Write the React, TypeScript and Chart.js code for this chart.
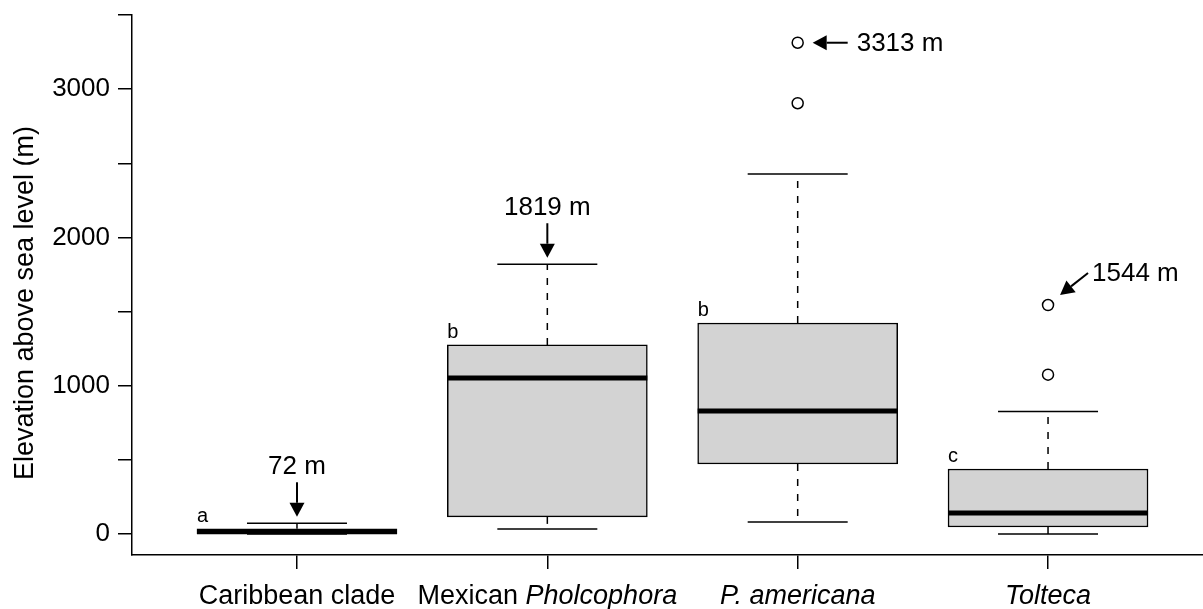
import React, { useEffect, useRef } from 'react';
import { Chart, registerables } from 'chart.js';

Chart.register(...registerables);

const FONT = "'Liberation Sans', Arial, Helvetica, sans-serif";

// ---- data ----
const groupPositions = [1, 2, 3, 4];
const groupLabelParts: [string, boolean][][] = [
  [['Caribbean clade', false]],
  [['Mexican ', false], ['Pholcophora', true]],
  [['P. americana', true]],
  [['Tolteca', true]],
];
const whiskerLow = [0, 34, 81, 0];
const q1 = [2, 115, 472, 47];
const median = [15, 1052, 829, 142];
const q3 = [35, 1275, 1423, 438];
const whiskerHigh = [72, 1819, 2428, 825];
const outlierGroup = [3, 3, 4, 4];
const outlierValue = [2905, 3313, 1074, 1544];
const groupLetters = ['a', 'b', 'b', 'c'];
const calloutText = ['72 m', '1819 m', '3313 m', '1544 m'];
const calloutGroup = [1, 2, 3, 4];
const calloutValue = [72, 1819, 3313, 1544];
const calloutKind = ['down', 'down', 'left', 'diag'];
const yTickValues = [0, 500, 1000, 1500, 2000, 2500, 3000, 3500];
const yTickLabels = ['0', '', '1000', '', '2000', '', '3000', ''];
const yTitle = 'Elevation above sea level (m)';
const yMin = -142;
const yMax = 3500;
const xMin = 0.341;
const xMax = 4.619;

function drawArrow(ctx: CanvasRenderingContext2D, x0: number, y0: number, x1: number, y1: number) {
  const headLen = 14;
  const halfW = 7.5;
  const ang = Math.atan2(y1 - y0, x1 - x0);
  const bx = x1 - headLen * Math.cos(ang);
  const by = y1 - headLen * Math.sin(ang);
  ctx.beginPath();
  ctx.moveTo(x0, y0);
  ctx.lineTo(bx, by);
  ctx.lineWidth = 2;
  ctx.stroke();
  ctx.beginPath();
  ctx.moveTo(x1, y1);
  ctx.lineTo(bx - halfW * Math.sin(ang), by + halfW * Math.cos(ang));
  ctx.lineTo(bx + halfW * Math.sin(ang), by - halfW * Math.cos(ang));
  ctx.closePath();
  ctx.fill();
}

const boxPlugin = {
  id: 'boxExtras',
  afterDatasetsDraw(chart: any) {
    const { ctx, scales } = chart;
    const x = scales.x;
    const y = scales.y;
    const meta = chart.getDatasetMeta(0);
    ctx.save();
    ctx.strokeStyle = '#000';
    ctx.lineCap = 'butt';
    const seg = (a: number, b: number, c: number, d: number) => {
      ctx.beginPath();
      ctx.moveTo(a, b);
      ctx.lineTo(c, d);
      ctx.stroke();
    };
    groupPositions.forEach((g, i) => {
      const bar = meta.data[i];
      const cx = x.getPixelForValue(g);
      const half = bar.width / 2;
      const pHi = y.getPixelForValue(whiskerHigh[i]);
      const pLo = y.getPixelForValue(whiskerLow[i]);
      const pQ1 = y.getPixelForValue(q1[i]);
      const pQ3 = y.getPixelForValue(q3[i]);
      const pMed = y.getPixelForValue(median[i]);
      ctx.lineWidth = 1.5;
      ctx.setLineDash([7, 8]);
      seg(cx, pQ3, cx, pHi);
      seg(cx, pQ1, cx, pLo);
      ctx.setLineDash([]);
      seg(cx - half / 2, pHi, cx + half / 2, pHi);
      seg(cx - half / 2, pLo, cx + half / 2, pLo);
      ctx.lineWidth = 5;
      seg(cx - half, pMed, cx + half, pMed);
    });
    ctx.restore();
  },
  afterDraw(chart: any) {
    const { ctx, scales, chartArea } = chart;
    const x = scales.x;
    const y = scales.y;
    const meta = chart.getDatasetMeta(0);
    ctx.save();
    ctx.fillStyle = '#000';
    ctx.strokeStyle = '#000';

    // x category labels with mixed italics
    ctx.textBaseline = 'alphabetic';
    ctx.textAlign = 'left';
    groupPositions.forEach((g, i) => {
      const parts = groupLabelParts[i];
      let total = 0;
      const widths = parts.map(([t, it]) => {
        ctx.font = `${it ? 'italic ' : ''}27px ${FONT}`;
        const w = ctx.measureText(t).width;
        total += w;
        return w;
      });
      let sx = x.getPixelForValue(g) - total / 2;
      const by = chartArea.bottom + 49;
      parts.forEach(([t, it], k) => {
        ctx.font = `${it ? 'italic ' : ''}27px ${FONT}`;
        ctx.fillText(t, sx, by);
        sx += widths[k];
      });
    });

    // group letters
    ctx.font = `20px ${FONT}`;
    groupPositions.forEach((g, i) => {
      const bar = meta.data[i];
      const left = x.getPixelForValue(g) - bar.width / 2;
      ctx.fillText(groupLetters[i], left, y.getPixelForValue(q3[i]) - 7);
    });

    // callouts
    ctx.font = `26px ${FONT}`;
    calloutText.forEach((t, i) => {
      const cx = x.getPixelForValue(calloutGroup[i]);
      const py = y.getPixelForValue(calloutValue[i]);
      const kind = calloutKind[i];
      if (kind === 'down') {
        ctx.textAlign = 'center';
        ctx.fillText(t, cx, py - 49);
        drawArrow(ctx, cx, py - 41, cx, py - 6.5);
      } else if (kind === 'left') {
        ctx.textAlign = 'left';
        ctx.fillText(t, cx + 59, py + 8.5);
        drawArrow(ctx, cx + 50, py, cx + 15, py);
      } else {
        ctx.textAlign = 'left';
        ctx.fillText(t, cx + 44, py - 24);
        drawArrow(ctx, cx + 40, py - 32, cx + 12, py - 10);
      }
    });

    // y title
    ctx.translate(33, chartArea.bottom - 252);
    ctx.rotate(-Math.PI / 2);
    ctx.textAlign = 'center';
    ctx.textBaseline = 'alphabetic';
    ctx.font = `27px ${FONT}`;
    ctx.fillText(yTitle, 0, 0);
    ctx.restore();
  },
};

export default function App() {
  const ref = useRef<HTMLCanvasElement>(null);
  useEffect(() => {
    const canvas = ref.current;
    if (!canvas) return;
    const axisGrid = {
      drawOnChartArea: false,
      drawTicks: true,
      tickLength: 14,
      color: '#000',
      lineWidth: 1.5,
      offset: false,
    };
    const axisBorder = { display: true, color: '#000', width: 1.5 };
    const chart = new Chart(canvas, {
      type: 'bar',
      data: {
        datasets: [
          {
            type: 'bar',
            data: groupPositions.map((g, i) => ({ x: g, y: [q1[i], q3[i]] })) as any,
            backgroundColor: '#D3D3D3',
            borderColor: '#000',
            borderWidth: 1.5,
            borderSkipped: false,
            barThickness: 200,
            order: 2,
          } as any,
          {
            type: 'scatter',
            data: outlierGroup.map((g, i) => ({ x: g, y: outlierValue[i] })),
            pointRadius: 5.5,
            pointBorderWidth: 1.5,
            pointBackgroundColor: '#fff',
            pointBorderColor: '#000',
            showLine: false,
            order: 1,
          } as any,
        ],
      },
      options: {
        responsive: false,
        animation: false,
        devicePixelRatio: 1,
        layout: { autoPadding: false, padding: { top: 15, left: 0, right: 0, bottom: 0 } },
        plugins: { legend: { display: false }, tooltip: { enabled: false } },
        scales: {
          x: {
            type: 'linear',
            min: xMin,
            max: xMax,
            offset: false,
            afterBuildTicks: (s: any) => {
              s.ticks = groupPositions.map((v) => ({ value: v }));
            },
            afterFit: (s: any) => {
              s.height = 54;
              s.paddingLeft = 0;
              s.paddingRight = 0;
            },
            ticks: { display: false },
            grid: axisGrid,
            border: axisBorder,
          },
          y: {
            type: 'linear',
            min: yMin,
            max: yMax,
            afterBuildTicks: (s: any) => {
              s.ticks = yTickValues.map((v) => ({ value: v }));
            },
            afterFit: (s: any) => {
              s.width = 132;
              s.paddingTop = 0;
              s.paddingBottom = 0;
            },
            ticks: {
              autoSkip: false,
              padding: 8,
              color: '#000',
              font: { size: 26, family: FONT },
              callback: (_v: any, idx: number) => yTickLabels[idx] ?? '',
            },
            grid: axisGrid,
            border: axisBorder,
          },
        },
      } as any,
      plugins: [boxPlugin],
    });
    return () => chart.destroy();
  }, []);
  return (
    <div style={{ position: 'absolute', left: 0, top: 0, width: 1203, height: 609, background: '#fff' }}>
      <canvas ref={ref} width={1203} height={609} style={{ display: 'block' }} />
    </div>
  );
}
